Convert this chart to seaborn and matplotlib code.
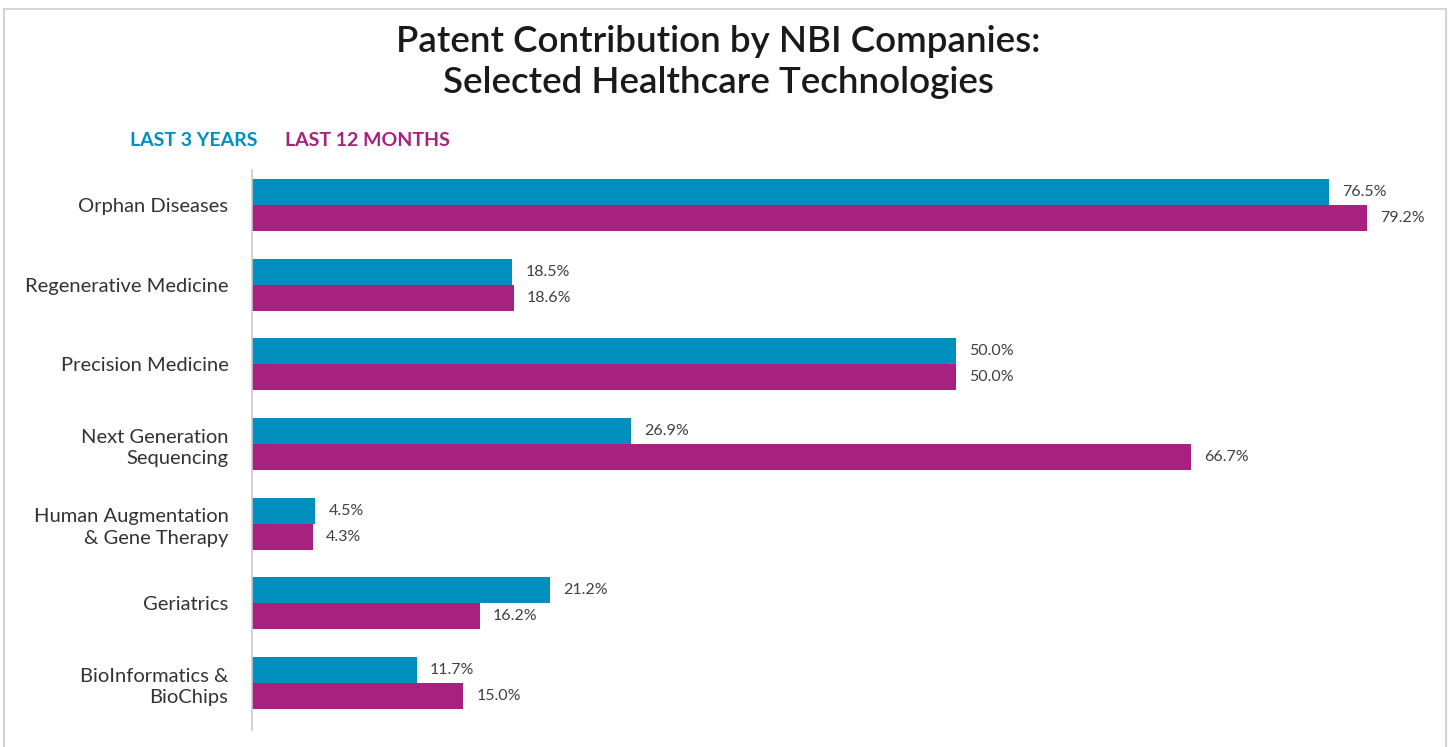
import pandas as pd
import matplotlib
matplotlib.use('Agg')
import matplotlib.pyplot as plt
import seaborn as sns
from matplotlib.patches import Rectangle

# Chart data
categories = ['Orphan Diseases', 'Regenerative Medicine', 'Precision Medicine',
              'Next Generation\nSequencing', 'Human Augmentation\n& Gene Therapy',
              'Geriatrics', 'BioInformatics &\nBioChips']
last_3_years = [76.5, 18.5, 50.0, 26.9, 4.5, 21.2, 11.7]
last_12_months = [79.2, 18.6, 50.0, 66.7, 4.3, 16.2, 15.0]
series_names = ['LAST 3 YEARS', 'LAST 12 MONTHS']
colors = ['#008fbf', '#a8217e']

df = pd.DataFrame({
    'Technology': categories * 2,
    'Share': last_3_years + last_12_months,
    'Period': [series_names[0]] * len(categories) + [series_names[1]] * len(categories),
})

sns.set_style('white')
plt.rcParams['font.family'] = ['Lato', 'DejaVu Sans']

W, H = 1448, 747
fig = plt.figure(figsize=(W / 100, H / 100), dpi=100)
ax = fig.add_axes([252 / W, 1 - 730 / H, (1420 - 252) / W, 560 / H])

sns.barplot(data=df, y='Technology', x='Share', hue='Period', order=categories,
            hue_order=series_names, palette=colors, width=0.65, orient='h',
            saturation=1, ax=ax, legend=False, errorbar=None, linewidth=0)

ax.set_xlim(0, 83)
ax.set_ylim(6.59, -0.44)

# Value labels
for container in ax.containers:
    ax.bar_label(container, labels=[f'{v:.1f}%' for v in container.datavalues],
                 padding=9.5, fontsize=11.5, color='#404040')

ax.set_xlabel('')
ax.set_ylabel('')
ax.set_xticks([])
ax.tick_params(axis='y', length=0, pad=17, labelsize=14.5, labelcolor='#333333')
for lbl in ax.get_yticklabels():
    lbl.set_horizontalalignment('right')
    lbl.set_multialignment('right')
    lbl.set_linespacing(1.35)
for side in ['top', 'right', 'bottom']:
    ax.spines[side].set_visible(False)
ax.spines['left'].set_color('#c8c8c8')
ax.spines['left'].set_linewidth(1.2)

# Title
fig.text(0.496, 1 - 62 / H, 'Patent Contribution by NBI Companies:\nSelected Healthcare Technologies',
         ha='center', va='center', fontsize=26.5, fontweight='semibold', color='#1a1a1a',
         linespacing=1.3)

# Legend as colored text
fig.text(130 / W, 1 - 140 / H, series_names[0], ha='left', va='center',
         fontsize=14, fontweight='bold', color=colors[0])
fig.text(285 / W, 1 - 140 / H, series_names[1], ha='left', va='center',
         fontsize=14, fontweight='bold', color=colors[1])

# Outer frame
fig.patches.append(Rectangle((4 / W, -0.05), (1446 - 4) / W, 1.05 - 9 / H,
                             transform=fig.transFigure, fill=False,
                             edgecolor='#d4d4d4', linewidth=1.5))

fig.savefig('out.png', dpi=100)
